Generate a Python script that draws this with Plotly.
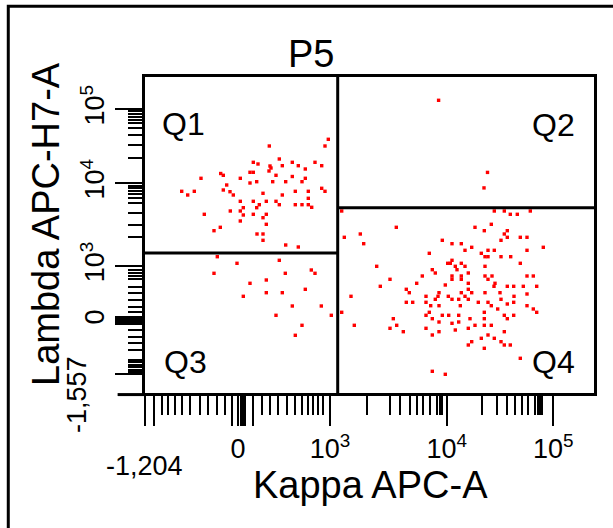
import plotly.graph_objects as go

# ---- events, on the biexponential display scale (display channels) ----
# Q1: Lambda+ / Kappa-
q1_kappa = [183.3, 180, 124.3, 134.3, 108.3, 113, 125, 126, 124, 137.3, 147.3, 153.3, 160.3, 170,
            176.7, 75.7, 78.3, 56, 95.3, 105, 108.3, 131, 147.3, 160.3, 105, 111.7, 127.7, 140.7,
            157, 81.7, 78.3, 85, 88.3, 36.7, 42.7, 49.3, 118, 137.3, 150.3, 163.3, 176.7, 180,
            163.3, 95.3, 108.3, 121.3, 131, 114.3, 134.3, 150.3, 157, 163.3, 166.7, 98.3, 111.7,
            59.3, 85.3, 95.3, 98.3, 108.3, 118, 121.3, 95.3, 121.3, 75.3, 69, 112, 118, 118,
            140.7, 153.3]
q1_lambda = [253.7, 247, 247, 234, 230.7, 229, 227, 225, 222, 227.3, 230.7, 227.3, 224, 230.7,
             227.3, 219.5, 217.7, 214.7, 214.7, 220.7, 220.7, 217.7, 216.5, 214.7, 210, 211.3,
             211.3, 211.3, 211.3, 208, 203, 201.3, 198, 201.7, 198, 201.7, 199.7, 198, 201.7,
             201.7, 204.7, 201.7, 194.7, 191.7, 191.7, 191.7, 191.7, 188.3, 188.3, 188.3, 188.3,
             188.3, 185.7, 185.3, 185.3, 178.7, 182, 182, 178, 178.7, 175.3, 178.7, 172, 168.7,
             165.7, 162.3, 159, 159, 152.7, 148, 146]

# Q2: Lambda+ / Kappa+
q2_kappa = [293.6, 342.5, 339]
q2_lambda = [292.7, 220.6, 205.1]

# Q3: double negative
q3_kappa = [72.3, 92, 134.3, 69, 140.3, 166.3, 170, 105, 121.3, 160.3, 98.3, 121.3, 137.3, 147.3,
            176.3, 131, 186.3, 157, 150.3]
q3_lambda = [136.3, 129.7, 132.7, 119.7, 119.7, 123, 119.7, 109.7, 113, 103.7, 96.7, 100.3, 100.3,
             87, 87, 77.7, 77.7, 67.7, 57.7]

# Q4: Kappa+ / Lambda-
q4_kappa = [196.7, 349.3, 359.3, 385.3, 365.3, 372.3, 346.3, 251.3, 330, 339.3, 362.3, 215.3, 359.3,
            199.3, 362.3, 375.3, 382, 297.3, 356, 218.7, 307, 316.3, 398.3, 326.7, 320, 343, 349.3,
            382, 284.3, 336.3, 340, 343, 356, 365.7, 307, 231.7, 302.7, 305.3, 316.3, 375.3, 310.3,
            320, 340, 287.3, 312, 290.3, 323.3, 277.3, 307, 316.3, 340, 347, 382, 388.3, 245, 307,
            316.3, 343, 271.7, 300.3, 323.3, 350, 235.3, 362.3, 368.7, 378.3, 391.7, 349, 261.3,
            323.3, 264.3, 294, 316.3, 326.7, 340, 355, 382, 206, 281, 293, 303.3, 320, 369, 290.3,
            307, 313.7, 323.3, 356, 261.3, 267.7, 281, 333.3, 343, 362.3, 368.7, 285.7, 294, 315.3,
            346.3, 382, 352.7, 388.3, 196.7, 284.3, 339.3, 391.7, 281, 297.3, 303.7, 313.7, 359.3,
            368.7, 248.3, 287.3, 325, 339.3, 362.3, 251.7, 294, 307, 313.7, 209.3, 330, 339.3,
            346.3, 245, 281, 310.3, 323.3, 258.3, 294, 359.3, 287.3, 343, 336.3, 349.3, 326.7, 356,
            323.3, 359.3, 365.3, 339.3, 375.3, 287.3, 300.3]
q4_lambda = [182, 182, 182, 182, 178.7, 178.7, 168.7, 165.7, 165.7, 162.3, 162.3, 159, 159, 155.7,
             155.7, 155.7, 155.7, 152.7, 152.7, 149.3, 149.3, 149.3, 145.7, 145.7, 142.7, 142.7,
             142.7, 142.7, 139.7, 139.7, 136.3, 136.3, 136.3, 136.3, 132.7, 126.7, 129.7, 129.7,
             129.7, 129.7, 126.7, 126.7, 126.7, 123.3, 123.3, 120, 120, 117, 117, 117, 117, 117, 117,
             117, 113.7, 113.7, 113.7, 113.7, 109.7, 108, 109.7, 109.7, 106.7, 106.7, 106.7, 106.7,
             106.7, 106.7, 103.7, 103.7, 100.3, 100.3, 100.3, 100.3, 100.3, 100.3, 99, 96.7, 96.7,
             96.7, 96.7, 96.7, 96.7, 93.7, 93.7, 93.7, 93.7, 93.7, 90.7, 90.7, 90.7, 90.7, 90.7, 89,
             90.7, 87.3, 87.3, 87.3, 87.3, 87.3, 84, 84, 80.7, 80.7, 80.7, 80.7, 77.7, 77.7, 77.7,
             77.7, 77.7, 77.7, 74.3, 74.3, 74.3, 74.3, 74.3, 67.7, 71, 69.7, 71, 67.7, 67.7, 67.7,
             67.7, 64.7, 64.7, 63, 64.7, 61.3, 61.3, 61.3, 58, 58, 54.7, 54.7, 51.3, 51.3, 48, 48, 48,
             44.7, 34.7, 21.7, 18.7]

# ---- quadrant gate thresholds (display channels) ----
kappa_cut = 192.7
lambda_cut_left = 140.0
lambda_cut_right = 185.3

# ---- axis scale: display range and tick layout ----
x_range = [0, 449]
y_range = [0, 316]

x_major_vals = [0, 9.3, 86.7, 93, 95.5, 98, 100, 108, 185, 301.7, 408.3]
x_major_text = ["", "", "", "0", "", "", "", "", "10<sup>3</sup>", "10<sup>4</sup>", "10<sup>5</sup>"]
x_minor_vals = [16.7, 23, 30, 36.7, 45, 55, 63, 71.7, 80, 116.7, 125, 133, 141.7, 150, 156.7, 163,
                168, 173, 178, 221.7, 245, 255, 265, 271.7, 278, 285, 292, 294.5, 297, 336.7, 351.7,
                361.7, 370, 376.7, 383, 390, 392.5, 395, 397]

y_major_vals = [19, 69, 71, 72, 74, 76, 127, 209.7, 283.7]
y_major_text = ["", "", "", "0", "", "", "10<sup>3</sup>", "10<sup>4</sup>", "10<sup>5</sup>"]
y_minor_vals = [21, 23.5, 26, 28.5, 31, 33.5, 43, 49.7, 56.3, 63, 81.3, 86.3, 93, 99.7, 106.3, 114,
                117, 120, 123, 156.3, 168, 180, 190, 195, 199, 202, 205, 207.5, 234.7, 248, 258,
                264.7, 270, 273, 276, 279, 282]

x_min_label = "-1,204"
y_min_label = "-1,557"
x_title = "Kappa APC-A"
y_title = "Lambda APC-H7-A"
plot_title = "P5"
quadrant_names = ["Q1", "Q2", "Q3", "Q4"]

FONT = "Liberation Sans, Arial, sans-serif"
RED = "#ff0000"

fig = go.Figure()
for kx, ly, name in [(q1_kappa, q1_lambda, "Q1"), (q2_kappa, q2_lambda, "Q2"),
                     (q3_kappa, q3_lambda, "Q3"), (q4_kappa, q4_lambda, "Q4")]:
    fig.add_trace(go.Scatter(
        x=kx, y=ly, mode="markers", name=name,
        marker=dict(symbol="square", size=3.4, color=RED, line=dict(width=0)),
        hoverinfo="skip", showlegend=False))

# quadrant gate lines
line_style = dict(color="black", width=3)
fig.add_shape(type="line", xref="x", yref="y", x0=kappa_cut, x1=kappa_cut,
              y0=y_range[0], y1=y_range[1], line=line_style)
fig.add_shape(type="line", xref="x", yref="y", x0=x_range[0], x1=kappa_cut,
              y0=lambda_cut_left, y1=lambda_cut_left, line=line_style)
fig.add_shape(type="line", xref="x", yref="y", x0=kappa_cut, x1=x_range[1],
              y0=lambda_cut_right, y1=lambda_cut_right, line=line_style)

# x axis baseline runs out past the lower-left corner
fig.add_shape(type="line", xref="paper", yref="paper", x0=-0.061, x1=0, y0=-0.005, y1=-0.005,
              line=line_style)

# outer panel border
fig.add_shape(type="rect", xref="paper", yref="paper", x0=-0.3045, x1=1.3, y0=-0.8, y1=1.224,
              line=dict(color="black", width=3))

axis_common = dict(showgrid=False, zeroline=False, showline=True, mirror=True,
                   linecolor="black", linewidth=3, ticks="outside", tickcolor="black",
                   tickwidth=2, tickmode="array",
                   tickfont=dict(family=FONT, size=27, color="black"))

fig.update_xaxes(range=x_range, tickvals=x_major_vals, ticktext=x_major_text, ticklen=30,
                 minor=dict(tickmode="array", tickvals=x_minor_vals, ticks="outside",
                            ticklen=19, tickwidth=2, tickcolor="black"),
                 **axis_common)
fig.update_yaxes(range=y_range, tickvals=y_major_vals, ticktext=y_major_text, ticklen=27,
                 tickangle=-90,
                 minor=dict(tickmode="array", tickvals=y_minor_vals, ticks="outside",
                            ticklen=14, tickwidth=2, tickcolor="black"),
                 **axis_common)

def label(text, x, y, size, xref="x", yref="y", angle=0):
    fig.add_annotation(text=text, x=x, y=y, xref=xref, yref=yref, showarrow=False,
                       textangle=angle, xanchor="center", yanchor="middle",
                       font=dict(family=FONT, size=size, color="black"))

# quadrant names
label(quadrant_names[0], 38.5, 269, 32)
label(quadrant_names[1], 408, 268, 32)
label(quadrant_names[2], 40, 31, 32)
label(quadrant_names[3], 408, 31, 32)

# title and axis titles (placed in paper space, outside the plotting area)
label(plot_title, 0.3697, 1.0728, 38, xref="paper", yref="paper")
label(x_title, 0.5033, -0.2911, 38, xref="paper", yref="paper")
label(y_title, -0.2205, 0.5348, 38, xref="paper", yref="paper", angle=-90)

# lower-bound labels of the biexponential scales
label(x_min_label, -0.0022, -0.231, 27, xref="paper", yref="paper")
label(y_min_label, -0.1514, -0.0063, 27, xref="paper", yref="paper", angle=-90)

fig.update_layout(
    width=613, height=528,
    margin=dict(l=145, r=19, t=77, b=135, pad=0),
    paper_bgcolor="white", plot_bgcolor="white",
    font=dict(family=FONT, color="black"),
    showlegend=False,
)

fig.write_html("out.html")
